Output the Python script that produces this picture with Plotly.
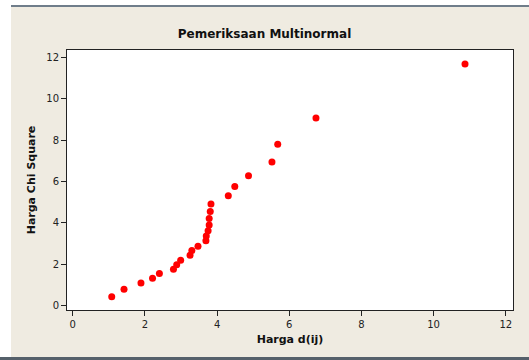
import plotly.graph_objects as go

harga_dij = [1.08, 1.42, 1.89, 2.21, 2.40, 2.79, 2.88, 2.99, 3.25, 3.30, 3.47, 3.69, 3.70,
             3.75, 3.78, 3.78, 3.81, 3.83, 4.31, 4.49, 4.87, 5.52, 5.68, 6.74, 10.87]
harga_chi = [0.43, 0.79, 1.10, 1.32, 1.55, 1.76, 1.97, 2.19, 2.43, 2.66, 2.87, 3.13, 3.37,
             3.62, 3.90, 4.21, 4.55, 4.91, 5.31, 5.75, 6.28, 6.94, 7.80, 9.07, 11.67]
x_ticks = [0, 2, 4, 6, 8, 10, 12]
y_ticks = [0, 2, 4, 6, 8, 10, 12]

FONT = "DejaVu Sans"

fig = go.Figure()
fig.add_trace(go.Scatter(
    x=harga_dij, y=harga_chi, mode="markers",
    marker=dict(color="#ff0000", size=7, line=dict(width=0)),
    showlegend=False,
))

axis_common = dict(
    showgrid=False, zeroline=False, showline=True, linecolor="#222222", linewidth=1,
    mirror=True, ticks="outside", ticklen=5, tickcolor="#222222", tickwidth=1,
    tickfont=dict(family=FONT, size=10, color="#222222"),
)

fig.update_layout(
    width=529, height=360,
    margin=dict(l=67, r=16, t=50, b=50),
    paper_bgcolor="#efebe1",
    plot_bgcolor="#ffffff",
    title=dict(text="<b>Pemeriksaan Multinormal</b>", x=0.5, xanchor="center",
               y=1 - 34 / 360, yanchor="middle",
               font=dict(family=FONT, size=12, color="#111111")),
    xaxis=dict(range=[-0.16, 12.2], tickvals=x_ticks,
               title=dict(text="<b>Harga d(ij)</b>", standoff=6,
                          font=dict(family=FONT, size=11, color="#111111")),
               **axis_common),
    yaxis=dict(range=[-0.21, 12.35], tickvals=y_ticks,
               title=dict(text="<b>Harga Chi Square</b>", standoff=8,
                          font=dict(family=FONT, size=11, color="#111111")),
               **axis_common),
    shapes=[
        dict(type="rect", xref="paper", yref="paper", x0=-67/446, x1=(529-67)/446,
             y0=1 + 45/260, y1=1 + 50/260, fillcolor="#ffffff", line=dict(width=0), layer="below"),
        dict(type="rect", xref="paper", yref="paper", x0=-67/446, x1=(529-67)/446,
             y0=1 + 43/260, y1=1 + 45/260, fillcolor="#6f7d8a", line=dict(width=0), layer="below"),
        dict(type="rect", xref="paper", yref="paper", x0=-67/446, x1=-56/446,
             y0=-50/260, y1=1 + 45/260, fillcolor="#ffffff", line=dict(width=0), layer="below"),
        dict(type="rect", xref="paper", yref="paper", x0=-67/446, x1=(529-67)/446,
             y0=-50/260, y1=-47/260, fillcolor="#55606a", line=dict(width=0), layer="below"),
    ],
)

fig.write_html("out.html", config={"displayModeBar": False},
               post_script="document.body.style.margin='0';document.body.style.overflow='hidden';")
